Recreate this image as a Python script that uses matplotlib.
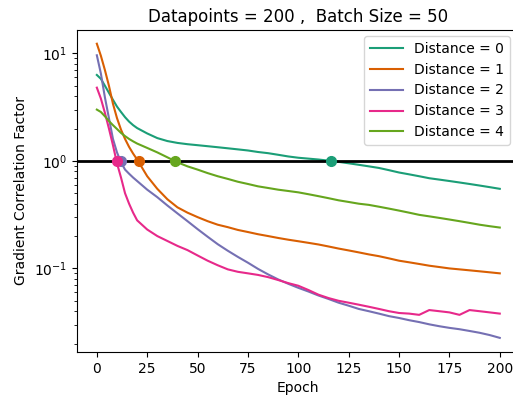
import matplotlib
matplotlib.use('Agg')
import matplotlib.pyplot as plt

epochs = [0, 2, 4, 6, 8, 10, 12, 14, 16, 18, 20, 25, 30, 35, 40, 45, 50, 55, 60, 65,
          70, 75, 80, 85, 90, 95, 100, 105, 110, 115, 120, 125, 130, 135, 140, 145,
          150, 155, 160, 165, 170, 175, 180, 185, 190, 195, 200]

dist0 = [6.3, 5.8, 5.0, 4.3, 3.7, 3.2, 2.85, 2.55, 2.32, 2.15, 2.02, 1.8, 1.63, 1.53, 1.47,
         1.43, 1.40, 1.37, 1.34, 1.31, 1.28, 1.25, 1.21, 1.18, 1.14, 1.10, 1.07, 1.05,
         1.03, 1.005, 0.98, 0.95, 0.92, 0.89, 0.86, 0.82, 0.78, 0.75, 0.72, 0.69, 0.67,
         0.65, 0.63, 0.61, 0.59, 0.57, 0.55]
dist1 = [12.3, 9.5, 7.0, 5.0, 3.4, 2.5, 1.95, 1.6, 1.35, 1.17, 1.03, 0.72, 0.55, 0.44,
         0.37, 0.33, 0.3, 0.275, 0.255, 0.242, 0.228, 0.218, 0.208, 0.2, 0.192, 0.185,
         0.179, 0.173, 0.167, 0.16, 0.153, 0.147, 0.141, 0.135, 0.13, 0.124, 0.118,
         0.114, 0.11, 0.106, 0.103, 0.1, 0.098, 0.096, 0.094, 0.092, 0.09]
dist2 = [9.6, 6.5, 3.9, 2.5, 1.6, 1.2, 0.97, 0.83, 0.76, 0.7, 0.65, 0.54, 0.46, 0.385,
         0.325, 0.275, 0.232, 0.197, 0.168, 0.146, 0.128, 0.113, 0.099, 0.088, 0.079,
         0.072, 0.066, 0.061, 0.056, 0.052, 0.048, 0.045, 0.042, 0.04, 0.038, 0.036,
         0.0346, 0.033, 0.0317, 0.0302, 0.029, 0.028, 0.0272, 0.0262, 0.0252, 0.024, 0.0226]
dist3 = [4.8, 3.8, 2.8, 2.0, 1.4, 0.95, 0.7, 0.5, 0.4, 0.33, 0.28, 0.23, 0.2, 0.18,
         0.162, 0.148, 0.132, 0.118, 0.107, 0.098, 0.093, 0.09, 0.087, 0.083, 0.078,
         0.073, 0.069, 0.063, 0.057, 0.053, 0.05, 0.048, 0.046, 0.044, 0.042, 0.04,
         0.0385, 0.038, 0.037, 0.041, 0.04, 0.039, 0.037, 0.041, 0.04, 0.039, 0.038]
dist4 = [3.0, 2.85, 2.6, 2.35, 2.15, 1.98, 1.82, 1.7, 1.6, 1.52, 1.45, 1.32, 1.2, 1.08,
         0.97, 0.89, 0.83, 0.77, 0.72, 0.68, 0.64, 0.61, 0.58, 0.56, 0.54, 0.525, 0.51,
         0.49, 0.47, 0.45, 0.43, 0.415, 0.40, 0.39, 0.375, 0.36, 0.345, 0.33, 0.315,
         0.305, 0.295, 0.285, 0.275, 0.265, 0.255, 0.247, 0.24]

series = [dist0, dist1, dist2, dist3, dist4]
labels = ['Distance = 0', 'Distance = 1', 'Distance = 2', 'Distance = 3', 'Distance = 4']
# epoch where each curve first drops below 1
cross = [116, 21, 12, 10, 39]

colors = ['#1b9e77', '#d95f02', '#7570b3', '#e7298a', '#66a61e']

fig = plt.figure(figsize=(5.13, 4.01), dpi=100)
ax = fig.add_axes([0.1495, 0.1222, 0.864, 0.803])

for y, lab, c in zip(series, labels, colors):
    ax.plot(epochs, y, color=c, lw=1.5, label=lab)

ax.axhline(1, color='black', lw=2)
for c, x in zip(colors, cross):
    ax.plot([x], [1], 'o', color=c, ms=7, zorder=5)

ax.set_yscale('log')
ax.set_ylim(0.0167, 16.5)
ax.set_xlim(-10, 210)
ax.set_title('Datapoints = 200 ,  Batch Size = 50')
ax.set_xlabel('Epoch')
ax.set_ylabel('Gradient Correlation Factor')
ax.legend(loc='upper right', bbox_to_anchor=(510 / 513, 1 - 36 / 401),
          bbox_transform=fig.transFigure, borderaxespad=0, handlelength=2.4)

plt.savefig('out.png')
